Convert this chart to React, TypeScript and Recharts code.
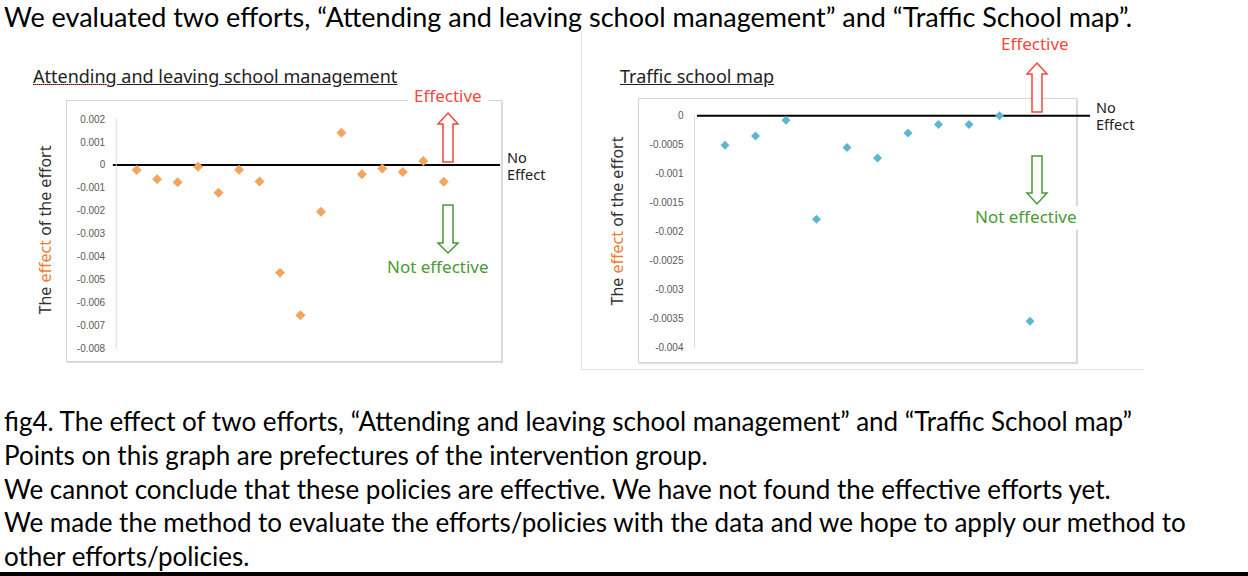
import { ScatterChart, Scatter, XAxis, YAxis, ReferenceLine } from 'recharts';

// Prefecture index (intervention group) and estimated effect per effort
const schoolMgmtIndex = [1, 2, 3, 4, 5, 6, 7, 8, 9, 10, 11, 12, 13, 14, 15, 16];
const schoolMgmtEffect = [
  -0.00022, -0.00063, -0.00076, -0.00008, -0.00121, -0.00021, -0.00072, -0.0047,
  -0.00655, -0.00204, 0.0014, -0.00041, -0.00016, -0.00031, 0.00017, -0.00073,
];
const schoolMgmtTicks = [0.002, 0.001, 0, -0.001, -0.002, -0.003, -0.004, -0.005, -0.006, -0.007, -0.008];

const trafficMapIndex = [1, 2, 3, 4, 5, 6, 7, 8, 9, 10, 11];
const trafficMapEffect = [
  -0.00051, -0.00035, -0.00008, -0.00179, -0.00055, -0.00073, -0.0003, -0.00015, -0.00015, 0, -0.00355,
];
const trafficMapTicks = [0, -0.0005, -0.001, -0.0015, -0.002, -0.0025, -0.003, -0.0035, -0.004];

const captionLines = [
  'fig4. The effect of two efforts, \u201cAttending and leaving school management\u201d and \u201cTraffic School map\u201d',
  'Points on this graph are prefectures of the intervention group.',
  'We cannot conclude that these policies are effective. We have not found the effective efforts yet.',
  'We made the method to evaluate the efforts/policies with the data and we hope to apply our method to',
  'other efforts/policies.',
];

const ORANGE = '#F2A55E';
const BLUE = '#5DB6CF';
const RED = '#F04A3C';
const GREEN = '#4A9A35';
const slideFont = 'Lato, "Open Sans", sans-serif';
const chartFont = '"Noto Sans", "Noto Sans CJK JP", sans-serif';

const schoolMgmtData = schoolMgmtIndex.map((x, i) => ({ x, y: schoolMgmtEffect[i] }));
const trafficMapData = trafficMapIndex.map((x, i) => ({ x, y: trafficMapEffect[i] }));

function diamond(r: number, fill: string) {
  return (p: any) => (
    <polygon
      points={`${p.cx},${p.cy - r} ${p.cx + r},${p.cy} ${p.cx},${p.cy + r} ${p.cx - r},${p.cy}`}
      fill={fill}
    />
  );
}

const tickStyle = { fill: '#595959', fontSize: 10, fontFamily: '"Liberation Sans", Arial, sans-serif' };

function YLabel({ left, top }: { left: number; top: number }) {
  return (
    <div
      style={{
        position: 'absolute',
        left,
        top,
        transform: 'translate(-50%, -50%) rotate(-90deg)',
        whiteSpace: 'nowrap',
        fontFamily: chartFont,
        fontSize: 16,
        color: '#333',
      }}
    >
      The <span style={{ color: '#ED7D31' }}>effect</span> of the effort
    </div>
  );
}

function Label({ left, top, color, text, pad = '0' }: { left: number; top: number; color: string; text: string; pad?: string }) {
  return (
    <div
      style={{
        position: 'absolute',
        left,
        top,
        lineHeight: '22px',
        padding: pad,
        background: '#fff',
        color,
        fontFamily: chartFont,
        fontSize: 17,
        whiteSpace: 'nowrap',
      }}
    >
      {text}
    </div>
  );
}

function NoEffect({ left, top }: { left: number; top: number }) {
  const s = { position: 'absolute' as const, left, lineHeight: '16px', fontFamily: chartFont, fontSize: 14.5, color: '#222' };
  return (
    <>
      <div style={{ ...s, top }}>No</div>
      <div style={{ ...s, top: top + 17 }}>Effect</div>
    </>
  );
}

export default function App() {
  return (
    <div
      style={{
        position: 'fixed',
        left: 0,
        top: 0,
        width: 1248,
        height: 576,
        background: '#fff',
        overflow: 'hidden',
        color: '#000',
      }}
    >
      <div style={{ position: 'absolute', left: 4, top: 1, lineHeight: '32px', fontFamily: slideFont, fontSize: 27, whiteSpace: 'nowrap' }}>
        We evaluated two efforts, &ldquo;Attending and leaving school management&rdquo; and &ldquo;Traffic School map&rdquo;.
      </div>

      {/* faint outline of the second picture */}
      <div style={{ position: 'absolute', left: 581, top: 28, width: 562, height: 341, borderLeft: '1px solid #E6E6E6', borderBottom: '1px solid #E0E0E0' }} />

      {/* chart frames */}
      <div style={{ position: 'absolute', left: 66, top: 100, width: 434, height: 260, border: '1px solid #D4D4D4', boxShadow: '1px 1px 1px rgba(0,0,0,0.12)' }} />
      <div style={{ position: 'absolute', left: 638, top: 98, width: 437, height: 263, border: '1px solid #D4D4D4', boxShadow: '1px 1px 1px rgba(0,0,0,0.12)' }} />

      <div style={{ position: 'absolute', left: 33, top: 65, lineHeight: '22px', fontFamily: chartFont, fontSize: 18, color: '#222', textDecoration: 'underline', whiteSpace: 'nowrap' }}>
        Attending and leaving school management
      </div>
      <div style={{ position: 'absolute', left: 34, top: 84, width: 75, borderBottom: '1px dotted #E04040' }} />
      <div style={{ position: 'absolute', left: 620, top: 65, lineHeight: '22px', fontFamily: chartFont, fontSize: 18, color: '#222', textDecoration: 'underline', whiteSpace: 'nowrap' }}>
        Traffic school map
      </div>

      <YLabel left={45} top={230} />
      <YLabel left={617} top={221} />

      <div style={{ position: 'absolute', left: 60, top: 100 }}>
        <ScatterChart width={460} height={262} margin={{ top: 19, right: 35.3, bottom: 13.5, left: 0 }}>
          <XAxis type="number" dataKey="x" domain={[0, 18]} hide />
          <YAxis
            type="number"
            dataKey="y"
            domain={[-0.008, 0.002]}
            ticks={schoolMgmtTicks}
            interval={0}
            width={56.2}
            tickLine={false}
            tickSize={0}
            tickMargin={11}
            axisLine={{ stroke: '#D9D9D9' }}
            tick={tickStyle}
          />
          <ReferenceLine segment={[{ x: -0.16, y: 0 }, { x: 18.75, y: 0 }]} stroke="#000" strokeWidth={2} ifOverflow="visible" />
          <Scatter data={schoolMgmtData} shape={diamond(5, ORANGE)} isAnimationActive={false} />
        </ScatterChart>
      </div>

      <div style={{ position: 'absolute', left: 630, top: 98 }}>
        <ScatterChart width={470} height={264} margin={{ top: 17.7, right: 39.5, bottom: 14.7, left: 0 }}>
          <XAxis type="number" dataKey="x" domain={[0, 12]} hide />
          <YAxis
            type="number"
            dataKey="y"
            domain={[-0.004, 0]}
            ticks={trafficMapTicks}
            interval={0}
            width={64.5}
            tickLine={false}
            tickSize={0}
            tickMargin={11}
            axisLine={{ stroke: '#D9D9D9' }}
            tick={tickStyle}
          />
          <ReferenceLine segment={[{ x: 0.08, y: 0 }, { x: 12.97, y: 0 }]} stroke="#000" strokeWidth={2} ifOverflow="visible" />
          <Scatter data={trafficMapData} shape={diamond(4.5, BLUE)} isAnimationActive={false} />
        </ScatterChart>
      </div>

      {/* hollow block arrows */}
      <svg style={{ position: 'absolute', left: 0, top: 0 }} width={1248} height={576}>
        <g fill="#fff" strokeWidth={1.5} strokeLinejoin="miter">
          <polygon points="448,113 458,124 453,124 453,162 443,162 443,124 438,124" stroke={RED} />
          <polygon points="443,205 453,205 453,243 458,243 448,253 438,243 443,243" stroke={GREEN} />
          <polygon points="1037,63 1047,74 1042,74 1042,112 1032,112 1032,74 1027,74" stroke={RED} />
          <polygon points="1032,156 1042,156 1042,193 1047,193 1037,204 1027,193 1032,193" stroke={GREEN} />
        </g>
      </svg>

      <Label left={408} top={85} color={RED} text="Effective" pad="0 6px" />
      <NoEffect left={507} top={149} />
      <Label left={387} top={256} color={GREEN} text="Not effective" />

      <Label left={1001} top={33} color={RED} text="Effective" />
      <NoEffect left={1096} top={99} />
      <Label left={975} top={206} color={GREEN} text="Not effective" pad="0 3px 2px 0" />

      <div style={{ position: 'absolute', left: 4, top: 405, lineHeight: '33.75px', fontFamily: slideFont, fontSize: 26, whiteSpace: 'nowrap' }}>
        {captionLines.map((l) => (
          <div key={l}>{l}</div>
        ))}
      </div>

      <div style={{ position: 'absolute', left: 0, top: 572, width: 1248, height: 4, background: '#000' }} />
    </div>
  );
}
